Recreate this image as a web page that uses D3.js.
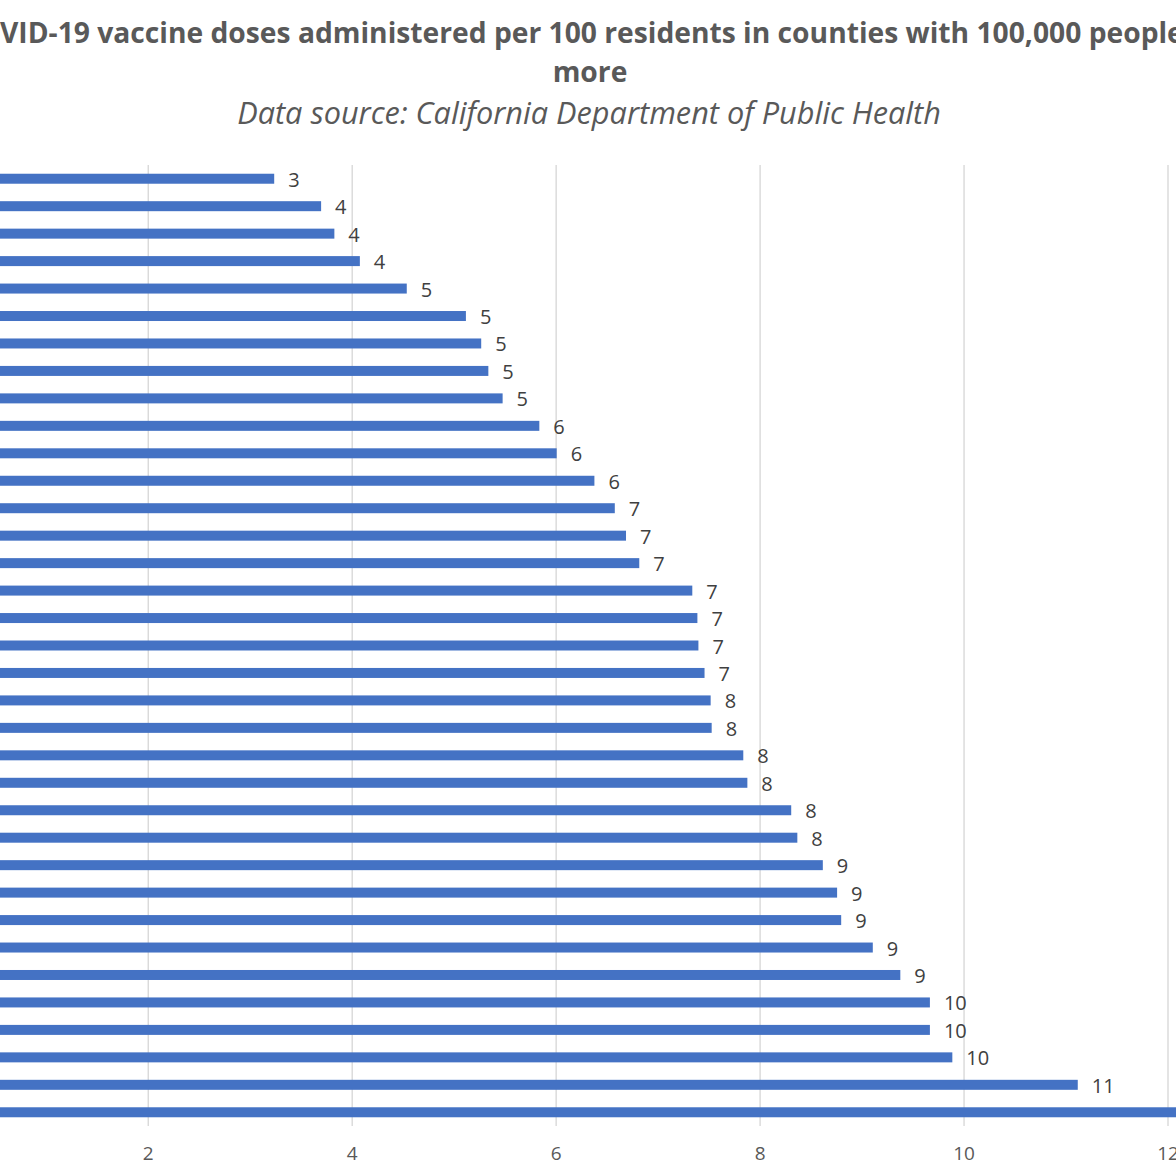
<!DOCTYPE html>
<html>
<head>
<meta charset="utf-8">
<script src="https://cdn.jsdelivr.net/npm/d3@7"></script>
<style>
  html, body { margin: 0; padding: 0; background: #fff; }
  svg { display: block; }
</style>
</head>
<body>
<svg id="chart" width="1176" height="1176"></svg>
<script>
// ---- data (county names are cropped out of the reference) ----
const categories = [
  "Rank 1","Rank 2","Rank 3","Rank 4","Rank 5","Rank 6","Rank 7","Rank 8","Rank 9","Rank 10",
  "Rank 11","Rank 12","Rank 13","Rank 14","Rank 15","Rank 16","Rank 17","Rank 18","Rank 19","Rank 20",
  "Rank 21","Rank 22","Rank 23","Rank 24","Rank 25","Rank 26","Rank 27","Rank 28","Rank 29","Rank 30",
  "Rank 31","Rank 32","Rank 33","Rank 34","Rank 35"
];
const dosesPer100 = [
  3.24, 3.70, 3.83, 4.08, 4.54, 5.12, 5.27, 5.34, 5.48, 5.84,
  6.01, 6.38, 6.58, 6.69, 6.82, 7.34, 7.39, 7.40, 7.46, 7.52,
  7.53, 7.84, 7.88, 8.31, 8.37, 8.62, 8.76, 8.80, 9.11, 9.38,
  9.67, 9.67, 9.89, 11.12, 13.0
];
const xTicks = [0, 2, 4, 6, 8, 10, 12];
const titleLine1 = "COVID-19 vaccine doses administered per 100 residents in counties with 100,000 people or";
const titleLine2 = "more";
const subtitle = "Data source: California Department of Public Health";

// ---- layout ----
const W = 1176, H = 1176;
const plotTop = 165, plotBottom = 1126;
const FONT = "'Open Sans', 'DejaVu Sans', sans-serif";

const svg = d3.select("#chart");

const x = d3.scaleLinear().domain([0, 12]).range([-56.2, 1167.5]);
const y = d3.scaleBand().domain(categories).range([plotTop, plotBottom])
  .paddingInner(0.636).paddingOuter(0.318);

const data = categories.map((c, i) => ({ cat: c, v: dosesPer100[i] }));

// gridlines via axis
const grid = svg.append("g")
  .attr("transform", `translate(0,${plotBottom})`)
  .call(d3.axisBottom(x).tickValues(xTicks).tickSize(-(plotBottom - plotTop)).tickFormat(""));
grid.select(".domain").remove();
grid.selectAll(".tick line").attr("stroke", "#d9d9d9").attr("stroke-width", 1.4);

// x tick labels
const xAxis = svg.append("g")
  .attr("transform", `translate(0,${plotBottom})`)
  .call(d3.axisBottom(x).tickValues(xTicks.filter(t => x(t) > 0)).tickSize(0).tickPadding(21).tickFormat(d3.format("d")));
xAxis.select(".domain").remove();
xAxis.selectAll("text")
  .attr("fill", "#595959")
  .style("font-family", FONT)
  .style("font-size", "19px");

// bars
svg.append("g").selectAll("rect").data(data).join("rect")
  .attr("x", x(0))
  .attr("y", d => y(d.cat))
  .attr("width", d => x(d.v) - x(0))
  .attr("height", y.bandwidth())
  .attr("fill", "#4472C4");

// data labels
svg.append("g").selectAll("text").data(data.filter(d => x(d.v) + 14 < W)).join("text")
  .attr("x", d => x(d.v) + 14)
  .attr("y", d => y(d.cat) + y.bandwidth() / 2 + 1)
  .attr("dy", "0.35em")
  .attr("fill", "#404040")
  .style("font-family", FONT)
  .style("font-size", "20px")
  .text(d => d3.format(".0f")(d.v));

// title line 1: fit so the visible part "VID-19 ... peopl" spans from x≈0 to ≈1168
const t1 = svg.append("text")
  .attr("y", 43)
  .attr("fill", "#595959")
  .style("font-family", FONT)
  .style("font-weight", "bold")
  .style("font-size", "24px")
  .text(titleLine1);
const endIdx = titleLine1.indexOf("people") + 5;
let w1 = t1.node().getSubStringLength(2, endIdx - 2);
const fs1 = 24 * 1168 / w1;
t1.style("font-size", fs1 + "px");
const lead = t1.node().getSubStringLength(0, 2);
t1.attr("x", 0 - lead);

svg.append("text")
  .attr("x", 590).attr("y", 82)
  .attr("text-anchor", "middle")
  .attr("fill", "#595959")
  .style("font-family", FONT)
  .style("font-weight", "bold")
  .style("font-size", fs1 + "px")
  .text(titleLine2);

// subtitle fitted to ~704px wide, centred at 589
const st = svg.append("text")
  .attr("x", 589).attr("y", 124)
  .attr("text-anchor", "middle")
  .attr("fill", "#595959")
  .style("font-family", FONT)
  .style("font-style", "italic")
  .style("font-size", "26px")
  .text(subtitle);
const ws = st.node().getComputedTextLength();
st.style("font-size", (26 * 704 / ws) + "px");
</script>
</body>
</html>
